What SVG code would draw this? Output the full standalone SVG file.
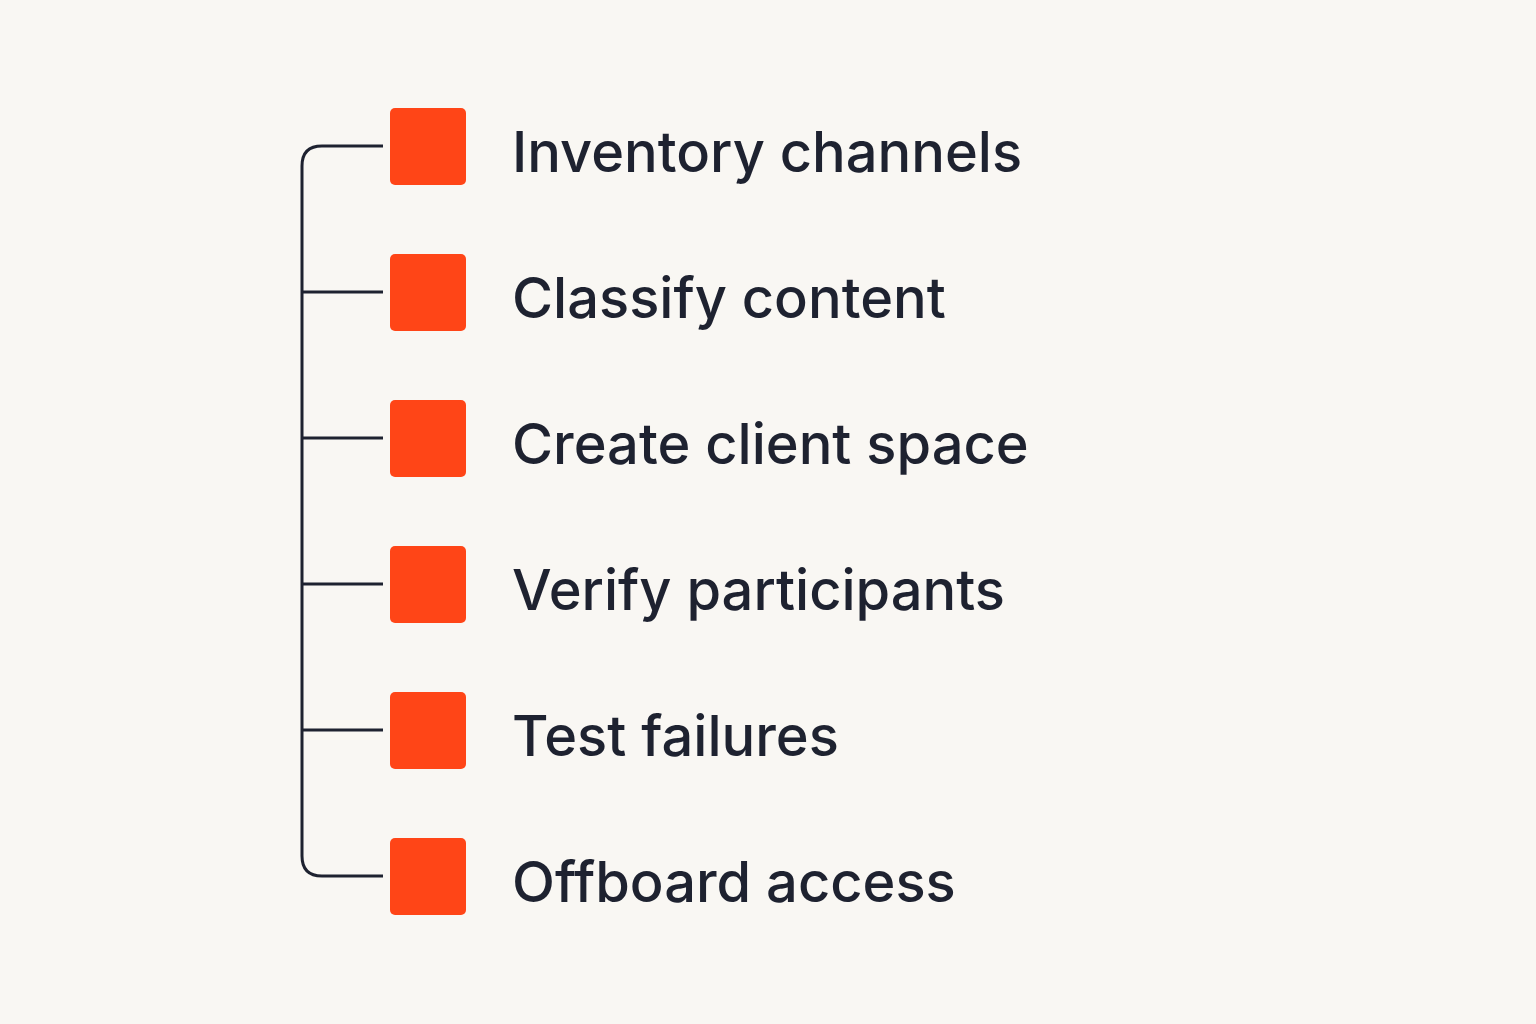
<svg xmlns="http://www.w3.org/2000/svg" width="1536" height="1024" viewBox="0 0 1536 1024">
<style>
.sq{fill:#ff4517}
.lbl{font-family:Inter,"Noto Sans",sans-serif;font-size:56px;fill:#1e2230;font-weight:500}
.ln{stroke:#1e2230;stroke-width:3;fill:none}
</style>
<rect width="1536" height="1024" fill="#f9f7f3"/>
<g id="connectors">
<path class="ln" d="M383 146 H322 Q302 146 302 166 V856 Q302 876 322 876 H383"/>
<path class="ln" d="M302 292 H383 M302 438 H383 M302 584 H383 M302 730 H383"/>
</g>
<g id="n1"><rect class="sq" x="390" y="108" width="76" height="77" rx="5"/><text class="lbl" x="512" y="172">Inventory channels</text></g>
<g id="n2"><rect class="sq" x="390" y="254" width="76" height="77" rx="5"/><text class="lbl" x="512" y="318">Classify content</text></g>
<g id="n3"><rect class="sq" x="390" y="400" width="76" height="77" rx="5"/><text class="lbl" x="512" y="464">Create client space</text></g>
<g id="n4"><rect class="sq" x="390" y="546" width="76" height="77" rx="5"/><text class="lbl" x="512" y="610">Verify participants</text></g>
<g id="n5"><rect class="sq" x="390" y="692" width="76" height="77" rx="5"/><text class="lbl" x="512" y="756">Test failures</text></g>
<g id="n6"><rect class="sq" x="390" y="838" width="76" height="77" rx="5"/><text class="lbl" x="512" y="902">Offboard access</text></g>
</svg>
